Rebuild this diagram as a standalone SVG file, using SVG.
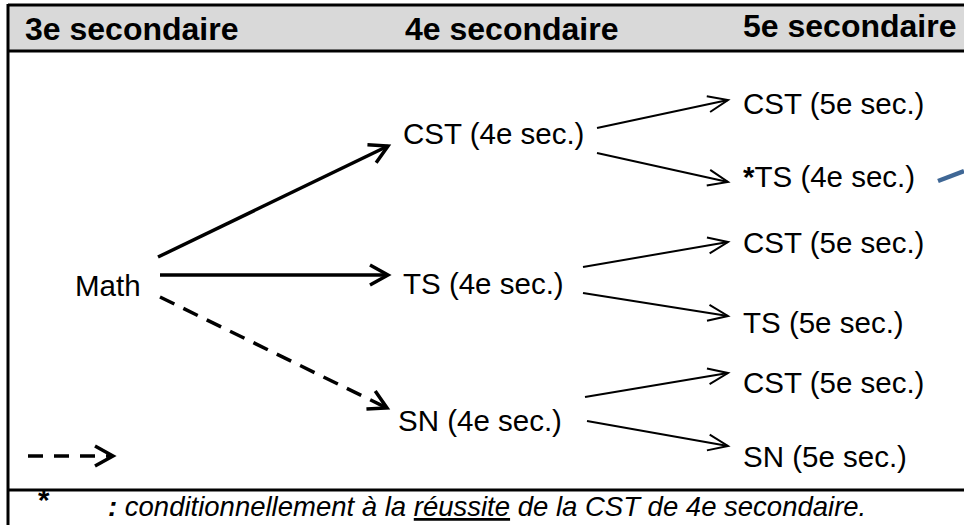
<svg xmlns="http://www.w3.org/2000/svg" width="964" height="525" viewBox="0 0 964 525">
<style>
.hdr{font-family:"Liberation Sans",Arial,sans-serif;font-weight:bold;font-size:32px;fill:#000}
.t{font-family:"Liberation Sans",Arial,sans-serif;font-size:29.5px;fill:#000}
.ft{font-family:"Liberation Sans",Arial,sans-serif;font-size:27.5px;font-style:italic;fill:#000}
.thick{stroke:#000;stroke-width:3.5;fill:none}
.thin{stroke:#000;stroke-width:2;fill:none}
.border{stroke:#000;stroke-width:3;fill:none}
</style>
<defs>
<marker id="ah" markerUnits="userSpaceOnUse" viewBox="-22 -12 26 24" markerWidth="26" markerHeight="24" refX="0" refY="0" orient="auto" overflow="visible">
<path d="M-18,-10 L0,0 L-18,10" fill="none" stroke="#000" stroke-width="3.5"/>
</marker>
<marker id="as" markerUnits="userSpaceOnUse" viewBox="-22 -12 26 24" markerWidth="26" markerHeight="24" refX="0" refY="0" orient="auto" overflow="visible">
<path d="M-20,-8 L0,0 L-20,8" fill="none" stroke="#000" stroke-width="2"/>
</marker>
</defs>
<rect width="964" height="525" fill="#fff"/>
<g id="table">
<rect x="8" y="5" width="960" height="46" fill="#d9d9d9"/>
<line class="border" x1="8" y1="5" x2="964" y2="5"/>
<line class="border" x1="8" y1="51" x2="964" y2="51"/>
<line class="border" x1="8" y1="490" x2="964" y2="490"/>
<line class="border" x1="8" y1="4" x2="8" y2="525"/>
</g>
<g id="headers">
<text class="hdr" x="25" y="40">3e secondaire</text>
<text class="hdr" x="405" y="40">4e secondaire</text>
<text class="hdr" x="743" y="37">5e secondaire</text>
</g>
<g id="n-math"><text class="t" x="75" y="296">Math</text></g>
<g id="n-cst4"><text class="t" x="403" y="144">CST (4e sec.)</text></g>
<g id="n-ts4"><text class="t" x="403" y="294">TS (4e sec.)</text></g>
<g id="n-sn4"><text class="t" x="398" y="431">SN (4e sec.)</text></g>
<g id="n-cst5a"><text class="t" x="743" y="114">CST (5e sec.)</text></g>
<g id="n-ts4b"><text class="t" x="743" y="187"><tspan font-weight="bold">*</tspan>TS (4e sec.)</text></g>
<g id="n-cst5b"><text class="t" x="743" y="253">CST (5e sec.)</text></g>
<g id="n-ts5"><text class="t" x="743" y="333">TS (5e sec.)</text></g>
<g id="n-cst5c"><text class="t" x="743" y="393">CST (5e sec.)</text></g>
<g id="n-sn5"><text class="t" x="743" y="467">SN (5e sec.)</text></g>
<g id="connectors">
<line class="thick" x1="158" y1="257" x2="388" y2="146" marker-end="url(#ah)"/>
<line class="thick" x1="160" y1="275" x2="388" y2="275" marker-end="url(#ah)"/>
<line class="thick" x1="160" y1="297" x2="387" y2="408" stroke-dasharray="16 10" marker-end="url(#ah)"/>
<line class="thin" x1="597" y1="128" x2="728" y2="100" marker-end="url(#as)"/>
<line class="thin" x1="597" y1="153" x2="728" y2="182" marker-end="url(#as)"/>
<line class="thin" x1="583" y1="267" x2="728" y2="242" marker-end="url(#as)"/>
<line class="thin" x1="583" y1="293" x2="728" y2="316" marker-end="url(#as)"/>
<line class="thin" x1="585" y1="397" x2="728" y2="373" marker-end="url(#as)"/>
<line class="thin" x1="587" y1="421" x2="728" y2="446" marker-end="url(#as)"/>
<line x1="938" y1="181" x2="964" y2="171" stroke="#3f6795" stroke-width="4.5"/>
</g>
<g id="legend">
<line class="thick" x1="28" y1="456" x2="113" y2="456" stroke-dasharray="15 11" marker-end="url(#ah)"/>
<text class="t" x="38" y="510" font-weight="bold" font-size="26">*</text>
<text class="ft" x="108" y="516"><tspan font-weight="bold">:</tspan> conditionnellement à la <tspan text-decoration="underline">réussite</tspan> de la CST de 4e secondaire.</text>
</g>
</svg>
